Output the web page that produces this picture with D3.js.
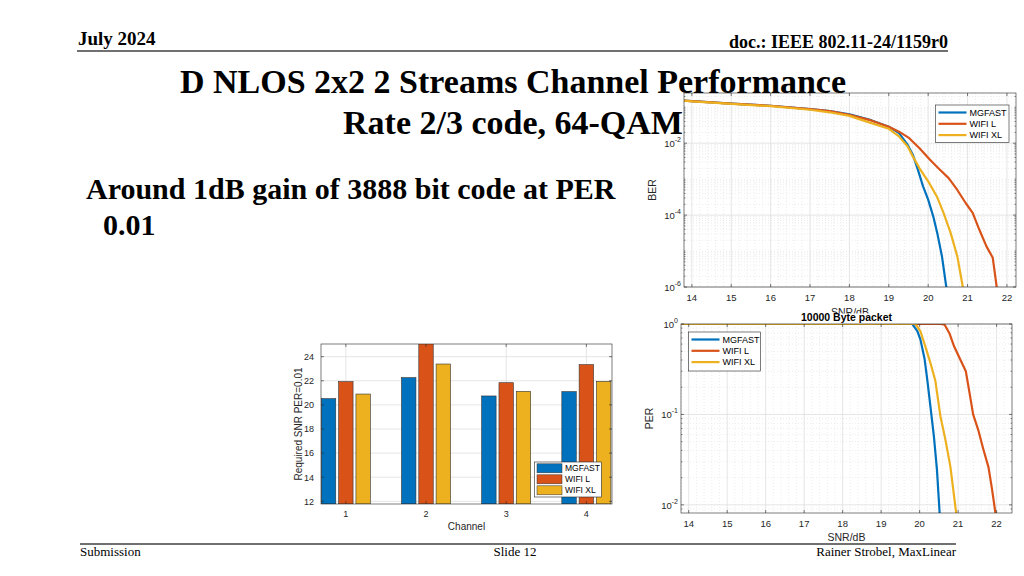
<!DOCTYPE html>
<html><head><meta charset="utf-8">
<script src="https://cdn.jsdelivr.net/npm/d3@7"></script>
<style>body{margin:0;background:#fff}svg{display:block}</style>
</head><body><svg id="c" width="1024" height="576"></svg>
<script>
// ---------------- data ----------------
const seriesNames = ["MGFAST", "WIFI L", "WIFI XL"];
const seriesColors = ["#0072BD", "#D95319", "#EDB120"];

// BER vs SNR/dB  [SNR, BER]
const berMGFAST = [[13.8,0.153],[14,0.148],[15,0.126],[16,0.110],[17,0.0891],[17.5,0.0776],[18,0.0631],[18.5,0.0457],[19,0.0288],[19.26,0.0191],[19.48,0.0089],[19.61,0.0048],[19.74,0.0018],[19.87,6.3e-4],[20.0,2.7e-4],[20.13,9.1e-5],[20.23,3.2e-5],[20.35,7.1e-6],[20.46,1.0e-6],[20.5,4e-7]];
const berWIFIL = [[13.8,0.153],[14,0.148],[15,0.126],[16,0.110],[17,0.0891],[17.5,0.0776],[18,0.0617],[18.5,0.0447],[19,0.0288],[19.26,0.0209],[19.52,0.0138],[19.78,0.0072],[20.04,0.0035],[20.26,0.0020],[20.52,0.00107],[20.74,5.0e-4],[20.96,2.1e-4],[21.13,1.15e-4],[21.3,3.9e-5],[21.48,1.35e-5],[21.64,6.5e-6],[21.74,1.0e-6],[21.78,4e-7]];
const berWIFIXL = [[13.8,0.153],[14,0.146],[15,0.124],[16,0.107],[17,0.0851],[17.5,0.0724],[18,0.0575],[18.5,0.038],[19,0.0251],[19.26,0.0155],[19.48,0.0081],[19.61,0.0043],[19.78,0.0020],[20.0,8.7e-4],[20.22,3.3e-4],[20.39,1.15e-4],[20.57,3.2e-5],[20.74,7.1e-6],[20.88,1.0e-6],[20.92,4e-7]];

// PER vs SNR/dB (10000 Byte packet)  [SNR, PER]
const perMGFAST = [[13.8,1],[19.81,1],[19.94,0.832],[20.02,0.676],[20.13,0.407],[20.2,0.24],[20.28,0.123],[20.37,0.0575],[20.45,0.0245],[20.52,0.0081],[20.54,0.006]];
const perWIFIL = [[13.8,1],[20.55,1],[20.65,0.98],[20.78,0.78],[20.9,0.56],[21.05,0.41],[21.2,0.30],[21.3,0.17],[21.39,0.10],[21.52,0.068],[21.65,0.042],[21.79,0.026],[21.88,0.015],[21.97,0.0081],[21.99,0.006]];
const perWIFIXL = [[13.8,1],[19.89,1],[20.02,0.832],[20.15,0.562],[20.28,0.372],[20.41,0.234],[20.54,0.0955],[20.67,0.0525],[20.8,0.0263],[20.95,0.0081],[20.97,0.006]];

// Required SNR at PER=0.01 per channel
const channels = [1, 2, 3, 4];
const reqMGFAST = [20.52, 22.26, 20.74, 21.10];
const reqWIFIL  = [21.93, 25.2, 21.84, 23.34];
const reqWIFIXL = [20.90, 23.39, 21.12, 21.95];

const snrTicks = [14, 15, 16, 17, 18, 19, 20, 21, 22];
const berTicks = [1e-2, 1e-4, 1e-6];
const perTicks = [1, 1e-1, 1e-2];
const barYTicks = [12, 14, 16, 18, 20, 22, 24];

// ---------------- drawing ----------------
const svg = d3.select("#c");
const AX = "#262626", GRID = "#dedede", MINOR = "#e4e4e4";
const SANS = "'Liberation Sans', Arial, sans-serif";
const SERIF = "'Liberation Serif', 'Times New Roman', serif";

let clipId = 0;
function clip(g, x0, y0, w, h) {
  const id = "clip" + (clipId++);
  svg.append("defs").append("clipPath").attr("id", id)
    .append("rect").attr("x", x0).attr("y", y0).attr("width", w).attr("height", h);
  return g.append("g").attr("clip-path", `url(#${id})`);
}

function expLabel(sel, v) {
  const e = Math.round(Math.log10(v));
  sel.text("10");
  sel.append("tspan").attr("dy", -5).attr("font-size", 7).text(String(e));
}

function logPanel(x, y, yTicks, seriesData, legendPos, ylabel) {
  const g = svg.append("g");
  const [x0, x1] = x.range();
  const [y1, y0] = y.range();
  g.append("rect").attr("x", x0).attr("y", y0).attr("width", x1 - x0).attr("height", y1 - y0).attr("fill", "#fff");
  const xd = x.domain();
  const xm = d3.range(Math.ceil(xd[0] * 5) / 5, xd[1], 0.2).filter(v => Math.abs(v - Math.round(v)) > 1e-6);
  g.selectAll(null).data(xm).join("line")
    .attr("x1", d => x(d)).attr("x2", d => x(d)).attr("y1", y0).attr("y2", y1)
    .attr("stroke", MINOR).attr("stroke-dasharray", "1,2").attr("stroke-width", 0.7);
  const yd = y.domain();
  const ym = [];
  for (let e = Math.floor(Math.log10(yd[0])); e <= Math.ceil(Math.log10(yd[1])); e++)
    for (let k = 1; k <= 9; k++) {
      const v = k * Math.pow(10, e);
      if (v >= yd[0] && v <= yd[1] && !yTicks.some(t => Math.abs(t - v) / v < 1e-6)) ym.push(v);
    }
  g.selectAll(null).data(ym).join("line")
    .attr("x1", x0).attr("x2", x1).attr("y1", d => y(d)).attr("y2", d => y(d))
    .attr("stroke", MINOR).attr("stroke-dasharray", "1,2").attr("stroke-width", 0.7);
  g.selectAll(null).data(snrTicks).join("line")
    .attr("x1", d => x(d)).attr("x2", d => x(d)).attr("y1", y0).attr("y2", y1)
    .attr("stroke", GRID).attr("stroke-width", 0.8);
  g.selectAll(null).data(yTicks).join("line")
    .attr("x1", x0).attr("x2", x1).attr("y1", d => y(d)).attr("y2", d => y(d))
    .attr("stroke", GRID).attr("stroke-width", 0.8);
  const cg = clip(g, x0, y0, x1 - x0, y1 - y0);
  const line = d3.line().x(d => x(d[0])).y(d => y(d[1]));
  seriesData.forEach((s, i) => {
    cg.append("path").attr("d", line(s)).attr("fill", "none")
      .attr("stroke", seriesColors[i]).attr("stroke-width", 2.2).attr("stroke-linejoin", "round");
  });
  const tk = 3;
  g.selectAll(null).data(snrTicks).join("path")
    .attr("d", d => `M${x(d)},${y1}v${-tk}M${x(d)},${y0}v${tk}`).attr("stroke", AX).attr("stroke-width", 0.6);
  g.selectAll(null).data(yTicks).join("path")
    .attr("d", d => `M${x0},${y(d)}h${tk}M${x1},${y(d)}h${-tk}`).attr("stroke", AX).attr("stroke-width", 0.6);
  g.selectAll(null).data(ym).join("path")
    .attr("d", d => `M${x0},${y(d)}h${tk - 1.5}M${x1},${y(d)}h${-(tk - 1.5)}`).attr("stroke", AX).attr("stroke-width", 0.5);
  g.append("rect").attr("x", x0).attr("y", y0).attr("width", x1 - x0).attr("height", y1 - y0)
    .attr("fill", "none").attr("stroke", AX).attr("stroke-width", 0.6);
  g.selectAll(null).data(snrTicks).join("text")
    .attr("x", d => x(d)).attr("y", y1 + 14).attr("text-anchor", "middle")
    .attr("font-family", SANS).attr("font-size", 9.5).attr("fill", AX).text(d => d);
  g.selectAll(null).data(yTicks).join("text")
    .attr("x", x0 - 3).attr("y", d => y(d) + 4).attr("text-anchor", "end")
    .attr("font-family", SANS).attr("font-size", 9.5).attr("fill", AX)
    .each(function(d) { expLabel(d3.select(this), d); });
  g.append("text").attr("transform", `translate(${ylabel.x},${(y0 + y1) / 2}) rotate(-90)`)
    .attr("text-anchor", "middle").attr("font-family", SANS).attr("font-size", 10.5).attr("fill", AX).text(ylabel.text);
  const lg = g.append("g");
  lg.append("rect").attr("x", legendPos.x).attr("y", legendPos.y).attr("width", legendPos.w).attr("height", legendPos.h)
    .attr("fill", "#fff").attr("stroke", AX).attr("stroke-width", 0.6);
  seriesNames.forEach((n, i) => {
    const yy = legendPos.y + 7.5 + i * 11.3;
    lg.append("line").attr("x1", legendPos.x + 3).attr("x2", legendPos.x + 31).attr("y1", yy).attr("y2", yy)
      .attr("stroke", seriesColors[i]).attr("stroke-width", 2.2);
    lg.append("text").attr("x", legendPos.x + 34).attr("y", yy + 3.3)
      .attr("font-family", SANS).attr("font-size", 9).attr("fill", "#000").text(n);
  });
  return g;
}

// --- BER panel
const berX = d3.scaleLinear().domain([13.8, 22.23]).range([684, 1016]);
const berY = d3.scaleLog().domain([1e-6, 0.249]).range([287, 93]);
logPanel(berX, berY, berTicks, [berMGFAST, berWIFIL, berWIFIXL],
  {x: 935.5, y: 105, w: 73.5, h: 37.5}, {x: 656, text: "BER"});
svg.append("text").attr("x", (684 + 1016) / 2).attr("y", 316).attr("text-anchor", "middle")
  .attr("font-family", SANS).attr("font-size", 10.5).attr("fill", AX).text("SNR/dB");

// --- PER panel (its figure background overlaps the BER figure)
svg.append("rect").attr("x", 640).attr("y", 313.5).attr("width", 384).attr("height", 230).attr("fill", "#fff");
const perX = d3.scaleLinear().domain([13.8, 22.4]).range([681, 1012]);
const perY = d3.scaleLog().domain([0.00813, 1]).range([513, 324]);
logPanel(perX, perY, perTicks, [perMGFAST, perWIFIL, perWIFIXL],
  {x: 688.5, y: 332, w: 72, h: 39}, {x: 653, text: "PER"});
svg.append("text").attr("x", (681 + 1012) / 2).attr("y", 321).attr("text-anchor", "middle")
  .attr("font-family", SANS).attr("font-size", 10.5).attr("font-weight", "bold").attr("fill", "#000").text("10000 Byte packet");
svg.append("text").attr("x", (681 + 1012) / 2).attr("y", 541).attr("text-anchor", "middle")
  .attr("font-family", SANS).attr("font-size", 10.5).attr("fill", AX).text("SNR/dB");

// --- Bar chart
(function() {
  const x = d3.scaleLinear().domain([0.69, 4.32]).range([321, 612]);
  const y = d3.scaleLinear().domain([11.78, 25.05]).range([504, 344]);
  const [x0, x1] = x.range(), [y1, y0] = y.range();
  const g = svg.append("g");
  g.selectAll(null).data(barYTicks).join("line")
    .attr("x1", x0).attr("x2", x1).attr("y1", d => y(d)).attr("y2", d => y(d)).attr("stroke", GRID).attr("stroke-width", 0.8);
  g.selectAll(null).data(channels).join("line")
    .attr("x1", d => x(d)).attr("x2", d => x(d)).attr("y1", y0).attr("y2", y1).attr("stroke", GRID).attr("stroke-width", 0.8);
  const cg = clip(g, x0, y0, x1 - x0, y1 - y0);
  const groupW = 0.6;
  const bw = groupW / 3 * 0.9;
  [reqMGFAST, reqWIFIL, reqWIFIXL].forEach((vals, si) => {
    cg.selectAll(null).data(vals.map((v, i) => ({c: channels[i], v}))).join("rect")
      .attr("x", d => x(d.c + (si - 1) * groupW / 2.78 - bw / 2))
      .attr("width", x(bw) - x(0))
      .attr("y", d => y(d.v)).attr("height", d => y(y.domain()[0]) - y(d.v))
      .attr("fill", seriesColors[si]).attr("stroke", "#333").attr("stroke-width", 0.6);
  });
  g.selectAll(null).data(barYTicks).join("path")
    .attr("d", d => `M${x0},${y(d)}h3M${x1},${y(d)}h-3`).attr("stroke", AX).attr("stroke-width", 0.6);
  g.selectAll(null).data(channels).join("path")
    .attr("d", d => `M${x(d)},${y1}v-3M${x(d)},${y0}v3`).attr("stroke", AX).attr("stroke-width", 0.6);
  g.append("rect").attr("x", x0).attr("y", y0).attr("width", x1 - x0).attr("height", y1 - y0)
    .attr("fill", "none").attr("stroke", AX).attr("stroke-width", 0.6);
  g.selectAll(null).data(barYTicks).join("text")
    .attr("x", x0 - 7).attr("y", d => y(d) + 3.3).attr("text-anchor", "end")
    .attr("font-family", SANS).attr("font-size", 9).attr("fill", AX).text(d => d);
  g.selectAll(null).data(channels).join("text")
    .attr("x", d => x(d)).attr("y", y1 + 13).attr("text-anchor", "middle")
    .attr("font-family", SANS).attr("font-size", 9).attr("fill", AX).text(d => d);
  g.append("text").attr("x", (x0 + x1) / 2).attr("y", 530).attr("text-anchor", "middle")
    .attr("font-family", SANS).attr("font-size", 10).attr("fill", AX).text("Channel");
  g.append("text").attr("transform", `translate(302,${(y0 + y1) / 2}) rotate(-90)`)
    .attr("text-anchor", "middle").attr("font-family", SANS).attr("font-size", 10).attr("fill", AX).text("Required SNR PER=0.01");
  const L = {x: 534.5, y: 462, w: 67, h: 35};
  g.append("rect").attr("x", L.x).attr("y", L.y).attr("width", L.w).attr("height", L.h)
    .attr("fill", "#fff").attr("stroke", AX).attr("stroke-width", 0.6);
  seriesNames.forEach((n, i) => {
    const yy = L.y + 6.3 + i * 11;
    g.append("rect").attr("x", L.x + 2.5).attr("y", yy - 4.5).attr("width", 25).attr("height", 9)
      .attr("fill", seriesColors[i]).attr("stroke", "#333").attr("stroke-width", 0.5);
    g.append("text").attr("x", L.x + 30.5).attr("y", yy + 3)
      .attr("font-family", SANS).attr("font-size", 8.5).attr("fill", "#000").text(n);
  });
})();

// --- slide text
const T = svg.append("g").attr("font-family", SERIF).attr("fill", "#000");
T.append("text").attr("x", 78).attr("y", 45).attr("font-size", 19).attr("font-weight", "bold").text("July 2024");
T.append("text").attr("x", 948).attr("y", 48).attr("text-anchor", "end").attr("font-size", 18).attr("font-weight", "bold").text("doc.: IEEE 802.11-24/1159r0");
T.append("line").attr("x1", 77).attr("x2", 948).attr("y1", 51).attr("y2", 51).attr("stroke", "#404040").attr("stroke-width", 1.5);
T.append("text").attr("x", 513).attr("y", 93).attr("text-anchor", "middle").attr("font-size", 34).attr("font-weight", "bold").text("D NLOS 2x2 2 Streams Channel Performance");
T.append("text").attr("x", 513).attr("y", 134).attr("text-anchor", "middle").attr("font-size", 34).attr("font-weight", "bold").text("Rate 2/3 code, 64-QAM");
T.append("text").attr("x", 86).attr("y", 199).attr("font-size", 30).attr("font-weight", "bold").text("Around 1dB gain of 3888 bit code at PER");
T.append("text").attr("x", 103).attr("y", 235).attr("font-size", 30).attr("font-weight", "bold").text("0.01");
T.append("line").attr("x1", 80).attr("x2", 956).attr("y1", 544).attr("y2", 544).attr("stroke", "#707070").attr("stroke-width", 2);
T.append("text").attr("x", 80).attr("y", 556).attr("font-size", 13).text("Submission");
T.append("text").attr("x", 515).attr("y", 556).attr("text-anchor", "middle").attr("font-size", 13).text("Slide 12");
T.append("text").attr("x", 956).attr("y", 556).attr("text-anchor", "end").attr("font-size", 13).text("Rainer Strobel, MaxLinear");
</script></body></html>
